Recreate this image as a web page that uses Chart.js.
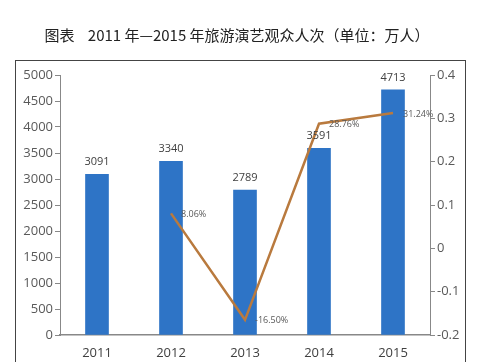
<!DOCTYPE html>
<html>
<head>
<meta charset="utf-8">
<script src="https://cdn.jsdelivr.net/npm/chart.js@4/dist/chart.umd.min.js"></script>
<style>
  html, body { margin: 0; padding: 0; background: #fff; }
  #wrap { width: 493px; height: 362px; position: relative; }
</style>
</head>
<body>
<div id="wrap"><canvas id="c"></canvas></div>
<script>
const years = ["2011", "2012", "2013", "2014", "2015"];
const visitors = [3091, 3340, 2789, 3591, 4713];
const growth = [null, 0.0806, -0.1650, 0.2876, 0.3124];
const growthLabels = [null, "8.06%", "-16.50%", "28.76%", "31.24%"];
const titleText = "图表    2011 年—2015 年旅游演艺观众人次（单位：万人）";

// frame, title and value labels
const decor = {
  id: 'decor',
  beforeDraw(chart) {
    const ctx = chart.ctx;
    ctx.save();
    ctx.fillStyle = '#fff';
    ctx.fillRect(0, 0, chart.width, chart.height);
    ctx.strokeStyle = '#444';
    ctx.lineWidth = 1;
    ctx.strokeRect(15.5, 60.5, 450, 320);
    ctx.fillStyle = '#222';
    ctx.font = '15px "Noto Sans CJK SC"';
    ctx.textAlign = 'center';
    ctx.textBaseline = 'middle';
    ctx.fillText(titleText, 237, 35);
    ctx.restore();
  },
  afterDatasetsDraw(chart) {
    const ctx = chart.ctx;
    ctx.save();
    ctx.font = '11px "Open Sans"';
    ctx.fillStyle = '#404040';
    ctx.textAlign = 'center';
    ctx.textBaseline = 'middle';
    chart.getDatasetMeta(1).data.forEach((bar, i) => {
      ctx.fillText(String(visitors[i]), bar.x, bar.y - 12);
    });
    ctx.font = '9px "Open Sans"';
    ctx.fillStyle = '#595959';
    ctx.textAlign = 'left';
    chart.getDatasetMeta(0).data.forEach((pt, i) => {
      if (growthLabels[i]) ctx.fillText(growthLabels[i], pt.x + 10, pt.y + 1);
    });
    ctx.restore();
  }
};

new Chart(document.getElementById('c').getContext('2d'), {
  data: {
    labels: years,
    datasets: [{
      type: 'line',
      label: '增长率',
      data: growth,
      yAxisID: 'y1',
      borderColor: '#B97A3E',
      borderWidth: 2.5,
      pointRadius: 0,
      tension: 0,
      order: 0
    }, {
      type: 'bar',
      label: '观众人次',
      data: visitors,
      yAxisID: 'y',
      backgroundColor: '#2E74C6',
      barThickness: 23,
      order: 1
    }]
  },
  plugins: [decor],
  options: {
    responsive: true,
    maintainAspectRatio: false,
    animation: false,
    layout: { padding: { left: 14, right: 0, top: 75, bottom: 0 } },
    scales: {
      x: {
        grid: { display: false },
        border: { color: '#888', width: 1.5 },
        ticks: { color: '#404040', font: { size: 13, family: 'Open Sans' }, padding: 2 },
        afterFit(s) { s.height = 27; }
      },
      y: {
        position: 'left',
        min: 0, max: 5000,
        ticks: { stepSize: 500, color: '#595959', font: { size: 13, family: 'Open Sans' }, padding: 2,
          callback: v => String(v) },
        grid: { drawOnChartArea: false, tickLength: 5, color: '#888' },
        border: { color: '#888' },
        afterFit(s) { s.width = 46; }
      },
      y1: {
        position: 'right',
        min: -0.2, max: 0.4,
        ticks: { stepSize: 0.1, color: '#595959', font: { size: 13, family: 'Open Sans' }, padding: 2,
          callback: v => String(Math.round(v * 10) / 10) },
        grid: { drawOnChartArea: false, tickLength: 5, color: '#888' },
        border: { color: '#888' },
        afterFit(s) { s.width = 63; }
      }
    },
    plugins: {
      legend: { display: false },
      tooltip: { enabled: false }
    }
  }
});
</script>
</body>
</html>
